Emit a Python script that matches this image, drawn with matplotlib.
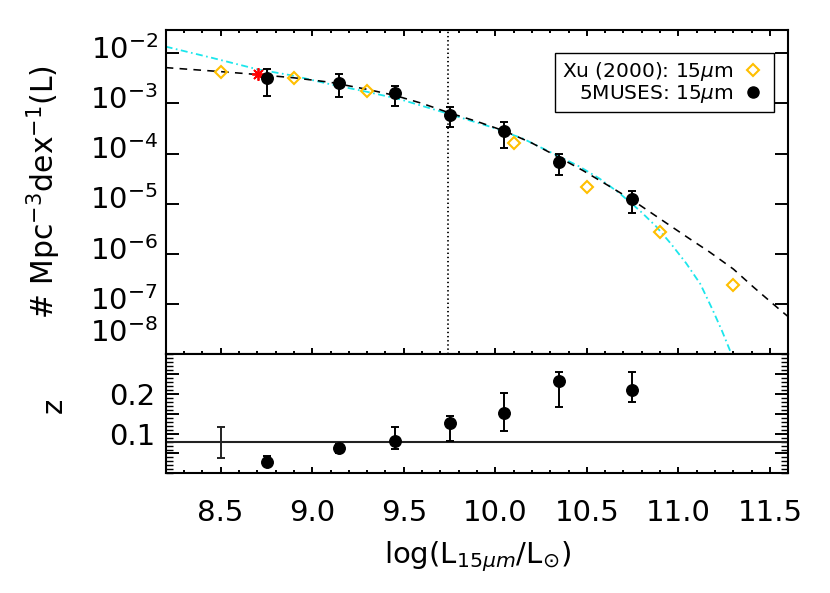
import numpy as np
import matplotlib
matplotlib.use('Agg')
import matplotlib.pyplot as plt
import matplotlib.transforms as mtransforms
from matplotlib.lines import Line2D
from matplotlib.ticker import FixedLocator, MultipleLocator

plt.rcParams['font.family'] = ['DejaVu Sans']
plt.rcParams['mathtext.fontset'] = 'dejavusans'
plt.rcParams['lines.scale_dashes'] = False

# ---------------- data ----------------
# 5MUSES 15um luminosity function
muses_logL = [8.751, 9.149, 9.451, 9.751, 10.049, 10.347, 10.748]
muses_phi = [3.2e-3, 2.6e-3, 1.6e-3, 5.9e-4, 2.87e-4, 6.8e-5, 1.25e-5]
muses_phi_hi = [4.9e-3, 3.8e-3, 2.26e-3, 8.6e-4, 4.28e-4, 9.9e-5, 1.83e-5]
muses_phi_lo = [1.41e-3, 1.37e-3, 8.9e-4, 3.36e-4, 1.32e-4, 3.77e-5, 6.5e-6]
# median redshift per bin
muses_z = [0.029, 0.064, 0.082, 0.128, 0.153, 0.233, 0.211]
muses_z_hi = [0.043, 0.074, 0.116, 0.144, 0.203, 0.256, 0.255]
muses_z_lo = [0.022, 0.050, 0.062, 0.081, 0.107, 0.167, 0.179]

# Xu (2000) 15um luminosity function
xu_logL = [8.5, 8.9, 9.3, 10.1, 10.5, 10.9, 11.3]
xu_phi = [4.3e-3, 3.27e-3, 1.8e-3, 1.61e-4, 2.14e-5, 2.8e-6, 2.42e-7]

# red asterisk point
star_logL = [8.705]
star_phi = [3.8e-3]

# fitted curves
dash_logL = [8.2, 8.5, 8.7, 8.9, 9.1, 9.3, 9.45, 9.6, 9.75, 9.9, 10.05, 10.2,
             10.35, 10.48, 10.6, 10.75, 10.9, 11.05, 11.17, 11.3, 11.41, 11.56, 11.6]
dash_logphi = [-2.287, -2.367, -2.425, -2.49, -2.58, -2.72, -2.84, -3.0, -3.19,
               -3.36, -3.55, -3.79, -4.08, -4.34, -4.6, -4.93, -5.3, -5.67,
               -5.96, -6.3, -6.66, -7.13, -7.25]
cyan_logL = [8.2, 8.45, 8.7, 8.9, 9.1, 9.3, 9.478, 9.733, 9.97, 10.15, 10.35,
             10.46, 10.57, 10.678, 10.79, 10.879, 10.96, 11.042, 11.12, 11.187,
             11.24, 11.288, 11.33]
cyan_logphi = [-1.869, -2.09, -2.32, -2.45, -2.62, -2.77, -2.916, -3.195, -3.462,
               -3.70, -4.06, -4.259, -4.50, -4.789, -5.14, -5.454, -5.80, -6.183,
               -6.60, -7.114, -7.55, -7.98, -8.4]

lum_cut = 9.74
xu_z_logL = 8.5
xu_zmed = 0.078
xu_zerr = 0.04

x_ticks = [8.5, 9.0, 9.5, 10.0, 10.5, 11.0, 11.5]
x_ticklabels = ['8.5', '9.0', '9.5', '10.0', '10.5', '11.0', '11.5']
y_ticks = [1e-2, 1e-3, 1e-4, 1e-5, 1e-6, 1e-7, 1e-8]
y_ticklabels = ['$10^{-2}$', '$10^{-3}$', '$10^{-4}$', '$10^{-5}$',
                '$10^{-6}$', '$10^{-7}$', '$10^{-8}$']
z_ticks = [0.05, 0.10, 0.15, 0.20, 0.25]
z_ticklabels = ['', '0.1', '', '0.2', '']

legend_labels = ['Xu (2000): 15$\\mu$m', '5MUSES: 15$\\mu$m']

# ---------------- figure ----------------
W, H = 830, 593
fig = plt.figure(figsize=(8.3, 5.93), dpi=100)
L, R = 165.7 / W, 788.3 / W
T1, B1 = 1 - 30 / H, 1 - 354.4 / H
B2 = 1 - 473.3 / H
ax1 = fig.add_axes([L, B1, R - L, T1 - B1])
ax2 = fig.add_axes([L, B2, R - L, B1 - B2])

orange = '#FFBF00'
cyan = '#1CE6EC'
lw = 1.15
fs = 21

# ---- top panel ----
ax1.set_yscale('log')
ax1.plot(cyan_logL, 10 ** np.array(cyan_logphi), color=cyan, lw=1.3,
         dashes=(5, 2.5, 1.2, 2.5))
ax1.plot(dash_logL, 10 ** np.array(dash_logphi), color='black', lw=lw,
         dashes=(5.5, 4.5))
ax1.axvline(lum_cut, color='black', lw=1.3, dashes=(1, 2.0))
phi = np.array(muses_phi)
ax1.errorbar(muses_logL, phi,
             yerr=[phi - np.array(muses_phi_lo), np.array(muses_phi_hi) - phi],
             fmt='o', color='black', ms=8.3, elinewidth=1.4, capsize=3, capthick=1.4)
ax1.plot(xu_logL, xu_phi, 'D', mfc='none', mec=orange, mew=1.5, ms=6.5)
ax1.plot(star_logL, star_phi, marker=(8, 2, 0), color='red', ms=9, mew=1.3,
         ls='none')

ax1.set_xlim(8.2, 11.6)
ax1.set_ylim(1e-8, 10 ** -1.538)
ax1.xaxis.set_major_locator(FixedLocator(x_ticks))
ax1.xaxis.set_minor_locator(MultipleLocator(0.1))
ax1.set_xticklabels([])
ax1.yaxis.set_major_locator(FixedLocator(y_ticks))
ax1.yaxis.set_minor_locator(FixedLocator([]))
ax1.set_yticklabels([''] * len(y_ticks))
ytrans = mtransforms.blended_transform_factory(ax1.transAxes, ax1.transData)
for i, (yv, lab) in enumerate(zip(y_ticks, y_ticklabels)):
    if i == len(y_ticks) - 1:
        off = mtransforms.ScaledTranslation(0, 4.5 / 72, fig.dpi_scale_trans)
        ax1.text(-0.0125, yv, lab, fontsize=fs, ha='right', va='bottom',
                 transform=ytrans + off)
    else:
        off = mtransforms.ScaledTranslation(0, 4.5 / 72, fig.dpi_scale_trans)
        ax1.text(-0.0125, yv, lab, fontsize=fs, ha='right', va='center_baseline',
                 transform=ytrans + off)
ax1.tick_params(axis='x', which='major', direction='in', length=4, width=1.4,
                top=True, bottom=True)
ax1.tick_params(axis='x', which='minor', direction='in', length=2, width=1.4,
                top=True, bottom=True)
ax1.tick_params(axis='y', which='major', direction='in', length=9.5, width=1.4,
                left=True, right=True, labelsize=fs, pad=7.5)
ax1.set_ylabel('# Mpc$^{-3}$dex$^{-1}$(L)', fontsize=fs + 0.5)
ax1.yaxis.set_label_coords(-0.165, 0.5)

handles = [Line2D([], [], ls='none', marker='D', mfc='none', mec=orange, mew=1.5, ms=6.5),
           Line2D([], [], ls='none', marker='o', color='black', ms=8)]
leg = ax1.legend(handles, legend_labels, loc='upper right',
                 bbox_to_anchor=((774 - 165.7) / 622.6, (354.4 - 53.3) / 324.4),
                 borderaxespad=0, markerfirst=False, fontsize=14.5, fancybox=False,
                 framealpha=1, edgecolor='black', handlelength=1.4,
                 handletextpad=0.25, borderpad=0.35, labelspacing=0.0)
leg.get_frame().set_linewidth(1.0)

# ---- bottom panel ----
ax2.axhline(xu_zmed, color='#222222', lw=1.5)
ax2.errorbar([xu_z_logL], [xu_zmed], yerr=[[xu_zerr], [xu_zerr]], fmt='none',
             ecolor='#222222', elinewidth=1.4, capsize=3, capthick=1.4)
z = np.array(muses_z)
ax2.errorbar(muses_logL, z,
             yerr=[z - np.array(muses_z_lo), np.array(muses_z_hi) - z],
             fmt='o', color='black', ms=8.3, elinewidth=1.4, capsize=3, capthick=1.4)
ax2.set_xlim(8.2, 11.6)
ax2.set_ylim(0.0, 0.3)
ax2.xaxis.set_major_locator(FixedLocator(x_ticks))
ax2.xaxis.set_minor_locator(MultipleLocator(0.1))
ax2.set_xticklabels(x_ticklabels)
ax2.yaxis.set_major_locator(FixedLocator(z_ticks))
ax2.yaxis.set_minor_locator(MultipleLocator(0.01))
ax2.set_yticklabels(z_ticklabels)
ax2.tick_params(axis='x', which='major', direction='in', length=4, width=1.4,
                top=False, bottom=True, labelsize=fs, pad=18.5)
ax2.tick_params(axis='x', which='minor', direction='in', length=2, width=1.4,
                top=False, bottom=True)
ax2.tick_params(axis='y', which='major', direction='in', length=9.5, width=1.4,
                left=True, right=True, labelsize=fs, pad=7.5)
ax2.tick_params(axis='y', which='minor', direction='in', length=5, width=1.0,
                left=True, right=True)
ax2.set_ylabel('z', fontsize=fs)
ax2.yaxis.set_label_coords(-0.158, 0.57)
ax2.set_xlabel('log(L$_{15\\mu m}$/L$_{\\odot}$)', fontsize=fs)
ax2.xaxis.set_label_coords(0.5, -0.56)

for ax in (ax1, ax2):
    for s in ax.spines.values():
        s.set_linewidth(1.5)

fig.savefig('out.png', dpi=100)
